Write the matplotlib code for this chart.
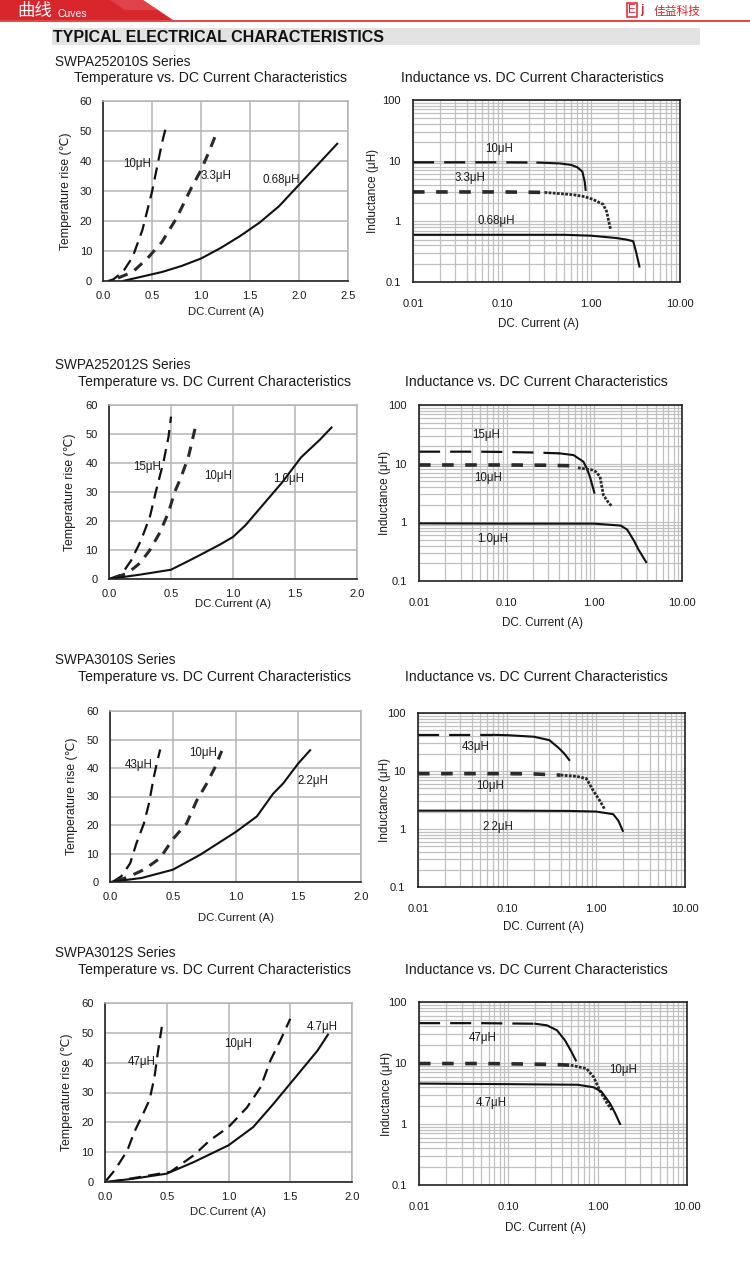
import matplotlib
matplotlib.use("Agg")
import matplotlib.pyplot as plt
from matplotlib.patches import Polygon, Rectangle
from matplotlib.ticker import FixedLocator, FixedFormatter, NullFormatter, LogLocator

plt.rcParams['font.family'] = ['Liberation Sans', 'DejaVu Sans', 'Noto Sans CJK SC']

# ---------------- data ----------------
series_names = ["SWPA252010S Series", "SWPA252012S Series", "SWPA3010S Series", "SWPA3012S Series"]
temp_title = "Temperature vs. DC Current Characteristics"
ind_title = "Inductance vs. DC Current Characteristics"
temp_xticks_r1 = [0.0, 0.5, 1.0, 1.5, 2.0, 2.5]
temp_xticks = [0.0, 0.5, 1.0, 1.5, 2.0]
temp_yticks = [0, 10, 20, 30, 40, 50, 60]
ind_xticks = [0.01, 0.1, 1, 10]
ind_xlabels = ["0.01", "0.10", "1.00", "10.00"]
ind_yticks = [0.1, 1, 10, 100]
ind_ylabels = ["0.1", "1", "10", "100"]

# Row 1 temperature
t1_10_x = [0.05, 0.1, 0.2, 0.3, 0.4, 0.5, 0.55, 0.6, 0.65]
t1_10_y = [0, 0.5, 3, 8, 17, 30, 38, 46, 52.5]
t1_33_x = [0.15, 0.3, 0.45, 0.6, 0.75, 0.9, 1.0, 1.08, 1.16]
t1_33_y = [1, 3, 7.5, 13, 21, 31, 37, 43, 49.5]
t1_068_x = [0.2, 0.4, 0.6, 0.8, 1.0, 1.2, 1.4, 1.6, 1.8, 2.0, 2.2, 2.4]
t1_068_y = [0, 1.5, 3, 5, 7.5, 11, 15, 19.5, 25, 32, 39, 46]
# Row 1 inductance
l1_10_x = [0.01, 0.05, 0.1, 0.25, 0.45, 0.6, 0.7, 0.8, 0.85, 0.87]
l1_10_y = [9.4, 9.4, 9.4, 9.3, 9.0, 8.5, 7.8, 6.6, 4.5, 3.3]
l1_33_x = [0.01, 0.05, 0.1, 0.3, 0.63, 0.85, 1.05, 1.37, 1.5, 1.6, 1.66]
l1_33_y = [3.05, 3.05, 3.05, 3.0, 2.75, 2.55, 2.3, 1.9, 1.45, 0.93, 0.73]
l1_068_x = [0.01, 0.1, 0.5, 1.0, 1.94, 2.5, 2.98, 3.2, 3.5]
l1_068_y = [0.6, 0.6, 0.6, 0.58, 0.53, 0.5, 0.47, 0.32, 0.18]

# Row 2 temperature
t2_15_x = [0, 0.1, 0.18, 0.26, 0.33, 0.38, 0.44, 0.48, 0.5]
t2_15_y = [0, 1.5, 6.5, 13.5, 21.5, 30.5, 40.5, 49, 56]
t2_10_x = [0.05, 0.15, 0.25, 0.33, 0.41, 0.48, 0.53, 0.58, 0.64, 0.7]
t2_10_y = [0.5, 2, 5.5, 10, 16, 23, 30, 35, 42, 53]
t2_1_x = [0, 0.25, 0.5, 0.7, 0.9, 1.0, 1.1, 1.25, 1.4, 1.55, 1.7, 1.8]
t2_1_y = [0, 1.5, 3.2, 7.5, 12, 14.5, 18.5, 26, 33.5, 42, 48, 52.5]
# Row 2 inductance
l2_15_x = [0.01, 0.05, 0.1, 0.2, 0.4, 0.58, 0.75, 0.82, 0.89, 0.96, 1.0]
l2_15_y = [16, 16, 15.8, 15.5, 15, 14, 10.8, 8.3, 6.0, 4.0, 3.2]
l2_10_x = [0.01, 0.05, 0.1, 0.3, 0.55, 0.65, 0.95, 1.05, 1.16, 1.27, 1.44, 1.57]
l2_10_y = [9.5, 9.5, 9.5, 9.4, 9.2, 8.5, 7.8, 7.2, 6.0, 2.9, 2.2, 1.9]
l2_1_x = [0.01, 0.1, 0.5, 1.0, 2.0, 2.37, 2.8, 3.2, 3.9]
l2_1_y = [0.96, 0.95, 0.95, 0.95, 0.88, 0.75, 0.5, 0.34, 0.21]

# Row 3 temperature
t3_43_x = [0.02, 0.09, 0.16, 0.21, 0.27, 0.31, 0.35, 0.38, 0.4]
t3_43_y = [0, 2, 6.5, 13.5, 20.5, 27.5, 37, 43, 46.5]
t3_10_x = [0.05, 0.13, 0.27, 0.4, 0.5, 0.61, 0.69, 0.77, 0.84, 0.89]
t3_10_y = [0.5, 1.5, 4.3, 8.4, 15, 20.5, 28.5, 34.5, 40.5, 46]
t3_22_x = [0, 0.25, 0.5, 0.72, 1.0, 1.17, 1.3, 1.38, 1.5, 1.6]
t3_22_y = [0, 1.4, 4.3, 9.6, 17.5, 23, 31, 34.6, 41.6, 46.5]
# Row 3 inductance
l3_43_x = [0.01, 0.03, 0.07, 0.1, 0.2, 0.3, 0.38, 0.44, 0.5]
l3_43_y = [42, 42, 42, 41.5, 39, 34, 25, 20, 15.5]
l3_10_x = [0.01, 0.05, 0.1, 0.2, 0.4, 0.6, 0.78, 0.93, 1.1, 1.25]
l3_10_y = [9.0, 9.0, 9.0, 8.9, 8.5, 8.1, 7.4, 4.6, 3.1, 2.2]
l3_22_x = [0.01, 0.1, 0.5, 1.0, 1.56, 1.78, 2.0]
l3_22_y = [2.07, 2.07, 2.05, 2.0, 1.8, 1.4, 0.93]

# Row 4 temperature
t4_47_x = [0.01, 0.08, 0.18, 0.24, 0.31, 0.36, 0.40, 0.43, 0.46]
t4_47_y = [0.5, 4, 10.5, 17, 23, 27.5, 35, 44, 52]
t4_10_x = [0.04, 0.2, 0.36, 0.53, 0.72, 0.85, 1.0, 1.15, 1.26, 1.34, 1.42, 1.5]
t4_10_y = [0, 1.1, 2.2, 3.4, 9, 14, 18.4, 25, 31.8, 40.8, 47.5, 54.7]
t4_47b_x = [0, 0.23, 0.5, 0.72, 1.0, 1.2, 1.36, 1.5, 1.61, 1.72, 1.81]
t4_47b_y = [0, 1.1, 2.8, 6.7, 12.3, 18.4, 26, 33, 38.5, 44, 49.7]
# Row 4 inductance
l4_47_x = [0.01, 0.05, 0.1, 0.2, 0.27, 0.35, 0.43, 0.51, 0.57]
l4_47_y = [45, 45, 44.5, 44, 41.5, 34.4, 23.6, 15.2, 11]
l4_10_x = [0.01, 0.05, 0.1, 0.3, 0.5, 0.75, 0.9, 1.05, 1.27, 1.44]
l4_10_y = [9.8, 9.8, 9.7, 9.5, 9.2, 8.1, 5.9, 3.6, 2.2, 1.7]
l4_47b_x = [0.01, 0.1, 0.6, 0.9, 1.1, 1.37, 1.57, 1.78]
l4_47b_y = [4.6, 4.5, 4.4, 4.0, 3.4, 2.2, 1.5, 1.0]

# ---------------- figure ----------------
W, H = 750, 1266
fig = plt.figure(figsize=(W / 100, H / 100), dpi=100)
RED = '#d9252c'


def fx(x):
    return x / W


def fy(y):
    return 1 - y / H


def axes_px(x0, y0, x1, y1):
    return fig.add_axes([fx(x0), fy(y1), (x1 - x0) / W, (y1 - y0) / H])


# header
fig.patches.append(Polygon([[fx(0), fy(0)], [fx(143), fy(0)], [fx(173), fy(20)], [fx(0), fy(20)]],
                           closed=True, transform=fig.transFigure, facecolor=RED, edgecolor='none'))
fig.patches.append(Polygon([[fx(110), fy(0)], [fx(143), fy(0)], [fx(158), fy(10)], [fx(125), fy(10)]],
                           closed=True, transform=fig.transFigure, facecolor='#e55a5f', edgecolor='none', alpha=0.6))
fig.add_artist(plt.Line2D([0, 1], [fy(21), fy(21)], transform=fig.transFigure, color=RED, lw=1.2))
fig.text(fx(17), fy(11), "曲线", color='white', fontsize=12.5, va='center', ha='left',
         family=['Noto Sans CJK SC'])
fig.text(fx(58), fy(14), "Cuves", color='white', fontsize=7.5, va='center', ha='left')
fig.text(fx(632), fy(10), "E", color=RED, fontsize=8.5, va='center', ha='center',
         bbox=dict(boxstyle='square,pad=0.12', fc='none', ec=RED, lw=1.1))
fig.text(fx(640), fy(10), "j", color=RED, fontsize=8.5, va='center', ha='left', fontweight='bold')
fig.text(fx(654), fy(11), "佳益科技", color=RED, fontsize=8.5, va='center', ha='left',
         family=['Noto Sans CJK SC'])

# title bar
fig.patches.append(Rectangle((fx(52), fy(45)), (700 - 52) / W, 17 / H, transform=fig.transFigure,
                             facecolor='#e3e3e3', edgecolor='none'))
fig.text(fx(53), fy(37), "TYPICAL ELECTRICAL CHARACTERISTICS", fontsize=11.5, fontweight='bold',
         va='center', ha='left', color='#111')

rows = [
    dict(name_y=62, sub_y=78, temp_sub_x=74, ind_sub_x=401,
         temp_box=(103.3, 101, 347.7, 281), ind_box=(413, 100, 680, 282),
         temp_xmax=2.5, temp_xticks=temp_xticks_r1, temp_ylab_x=66, temp_xlab_y=312,
         ind_ylab_x=373, ind_xlab_y=324,
         temp=[(t1_10_x, t1_10_y, 'dash', "10μH", 0.35, 39),
               (t1_33_x, t1_33_y, 'dot', "3.3μH", 1.15, 35),
               (t1_068_x, t1_068_y, 'solid', "0.68μH", 1.82, 33.5)],
         ind=[(l1_10_x, l1_10_y, 'dash', 0.25, "10μH", 0.094, 15.5),
              (l1_33_x, l1_33_y, 'dot', 0.3, "3.3μH", 0.044, 5.2),
              (l1_068_x, l1_068_y, 'solid', None, "0.68μH", 0.087, 1.0)]),
    dict(name_y=365, sub_y=382, temp_sub_x=78, ind_sub_x=405,
         temp_box=(109, 405, 357, 579), ind_box=(419, 405, 682, 581),
         temp_xmax=2.0, temp_xticks=temp_xticks, temp_ylab_x=70, temp_xlab_y=604,
         ind_ylab_x=385, ind_xlab_y=623,
         temp=[(t2_15_x, t2_15_y, 'dash', "15μH", 0.31, 38.5),
               (t2_10_x, t2_10_y, 'dot', "10μH", 0.88, 35.5),
               (t2_1_x, t2_1_y, 'solid', "1.0μH", 1.45, 34.5)],
         ind=[(l2_15_x, l2_15_y, 'dash', 0.4, "15μH", 0.059, 31),
              (l2_10_x, l2_10_y, 'dot', 0.65, "10μH", 0.062, 5.6),
              (l2_1_x, l2_1_y, 'solid', None, "1.0μH", 0.07, 0.53)]),
    dict(name_y=660, sub_y=677, temp_sub_x=78, ind_sub_x=405,
         temp_box=(110, 711, 361, 882), ind_box=(418, 713, 685, 887),
         temp_xmax=2.0, temp_xticks=temp_xticks, temp_ylab_x=72, temp_xlab_y=918,
         ind_ylab_x=385, ind_xlab_y=927,
         temp=[(t3_43_x, t3_43_y, 'dash', "43μH", 0.23, 41),
               (t3_10_x, t3_10_y, 'dot', "10μH", 0.74, 45.3),
               (t3_22_x, t3_22_y, 'solid', "2.2μH", 1.62, 35.5)],
         ind=[(l3_43_x, l3_43_y, 'dash', 0.07, "43μH", 0.045, 25.5),
              (l3_10_x, l3_10_y, 'dot', 0.4, "10μH", 0.064, 5.5),
              (l3_22_x, l3_22_y, 'solid', None, "2.2μH", 0.079, 1.1)]),
    dict(name_y=953, sub_y=970, temp_sub_x=78, ind_sub_x=405,
         temp_box=(105, 1003, 352, 1182), ind_box=(419, 1002, 687, 1185),
         temp_xmax=2.0, temp_xticks=temp_xticks, temp_ylab_x=67, temp_xlab_y=1212,
         ind_ylab_x=387, ind_xlab_y=1228,
         temp=[(t4_47_x, t4_47_y, 'dash', "47μH", 0.3, 40.2),
               (t4_10_x, t4_10_y, 'dash', "10μH", 1.08, 46.4),
               (t4_47b_x, t4_47b_y, 'solid', "4.7μH", 1.76, 52)],
         ind=[(l4_47_x, l4_47_y, 'dash', 0.2, "47μH", 0.052, 26),
              (l4_10_x, l4_10_y, 'dot', 0.5, "10μH", 1.94, 7.8),
              (l4_47b_x, l4_47b_y, 'solid', None, "4.7μH", 0.065, 2.17)]),
]

TXT = '#1a1a1a'
GRID = '#b4b4b4'


def style_kw(kind):
    if kind == 'dash':
        return dict(color='#111', lw=1.6, linestyle=(0, (5.5, 3.2)))
    if kind == 'dot':
        return dict(color='#2a2a2a', lw=2.2, linestyle=(0, (3.4, 2.6)))
    return dict(color='#111', lw=1.5, linestyle='-')


for i, r in enumerate(rows):
    fig.text(fx(55), fy(r['name_y']), series_names[i], fontsize=9.8, va='center', ha='left', color=TXT)
    fig.text(fx(r['temp_sub_x']), fy(r['sub_y']), temp_title, fontsize=10.05, va='center', ha='left', color=TXT)
    fig.text(fx(r['ind_sub_x']), fy(r['sub_y']), ind_title, fontsize=10.05, va='center', ha='left', color=TXT)

    # temperature plot
    x0, y0, x1, y1 = r['temp_box']
    ax = axes_px(x0, y0, x1, y1)
    for xs, ys, kind, lab, lx, ly in r['temp']:
        ax.plot(xs, ys, solid_capstyle='butt', dash_capstyle='butt', **style_kw(kind))
        ax.text(lx, ly, lab, fontsize=8.3, ha='center', va='center', color=TXT)
    ax.set_xlim(0, r['temp_xmax'])
    ax.set_ylim(0, 60)
    ax.set_xticks(r['temp_xticks'])
    ax.set_xticklabels([f"{v:.1f}" for v in r['temp_xticks']])
    ax.set_yticks(temp_yticks)
    ax.grid(True, color=GRID, lw=1.1)
    ax.set_axisbelow(True)
    for s in ['left', 'bottom']:
        ax.spines[s].set_color('#222')
        ax.spines[s].set_linewidth(1.2)
    for s in ['top', 'right']:
        ax.spines[s].set_color(GRID)
        ax.spines[s].set_linewidth(1.1)
    ax.tick_params(length=0, labelsize=8, labelcolor=TXT)
    ax.tick_params(axis='y', pad=8)
    ax.tick_params(axis='x', pad=7.5)
    hpx = y1 - y0
    wpx = x1 - x0
    ax.set_xlabel("DC.Current (A)", fontsize=8.2, color=TXT, va='center')
    ax.xaxis.set_label_coords(0.5, -(r['temp_xlab_y'] - y1) / hpx)
    ax.set_ylabel("Temperature rise (℃)", fontsize=8.8, color=TXT, va='center')
    ax.yaxis.set_label_coords(-(x0 - r['temp_ylab_x']) / wpx, 0.5)

    # inductance plot
    x0, y0, x1, y1 = r['ind_box']
    ax = axes_px(x0, y0, x1, y1)
    for xs, ys, kind, sw, lab, lx, ly in r['ind']:
        if sw is None:
            ax.plot(xs, ys, **style_kw('solid'))
        else:
            k = next(j for j, v in enumerate(xs) if v >= sw)
            if kind == 'dash':
                ax.plot(xs[:k + 1], ys[:k + 1], color='#111', lw=1.6, linestyle=(0, (9.5, 4.5)))
                ax.plot(xs[k:], ys[k:], color='#111', lw=1.5)
            else:
                ax.plot(xs[:k + 1], ys[:k + 1], color='#2a2a2a', lw=2.6, linestyle=(0, (3.2, 3.2)))
                ax.plot(xs[k:], ys[k:], color='#2a2a2a', lw=2.0, linestyle=(0, (1, 0.5)))
        ax.text(lx, ly, lab, fontsize=8.3, ha='center', va='center', color=TXT)
    ax.set_xscale('log')
    ax.set_yscale('log')
    ax.set_xlim(0.01, 10)
    ax.set_ylim(0.1, 100)
    ax.xaxis.set_major_locator(FixedLocator(ind_xticks))
    ax.xaxis.set_major_formatter(FixedFormatter(ind_xlabels))
    ax.yaxis.set_major_locator(FixedLocator(ind_yticks))
    ax.yaxis.set_major_formatter(FixedFormatter(ind_ylabels))
    ax.xaxis.set_minor_locator(LogLocator(base=10, subs=range(2, 10)))
    ax.yaxis.set_minor_locator(LogLocator(base=10, subs=range(2, 10)))
    ax.xaxis.set_minor_formatter(NullFormatter())
    ax.yaxis.set_minor_formatter(NullFormatter())
    ax.grid(True, which='both', color='#c0c0c0', lw=0.9)
    ax.set_axisbelow(True)
    for s in ax.spines.values():
        s.set_color('#222')
        s.set_linewidth(1.2)
    ax.tick_params(which='both', length=0, labelsize=8, labelcolor=TXT)
    ax.tick_params(axis='y', pad=9)
    ax.tick_params(axis='x', pad=12)
    hpx = y1 - y0
    wpx = x1 - x0
    ax.set_xlabel("DC. Current (A)", fontsize=8.4, color=TXT, va='center')
    ax.xaxis.set_label_coords(0.47, -(r['ind_xlab_y'] - y1) / hpx)
    ax.set_ylabel("Inductance (μH)", fontsize=8.5, color=TXT, va='center')
    ax.yaxis.set_label_coords(-(x0 - r['ind_ylab_x']) / wpx, 0.5)

fig.savefig("out.png", dpi=100)
